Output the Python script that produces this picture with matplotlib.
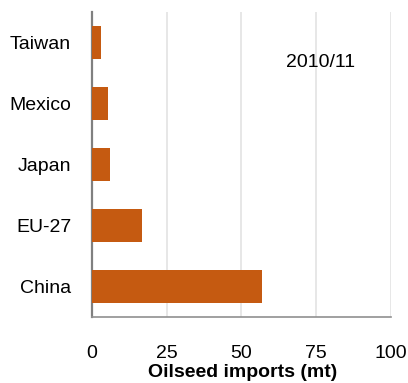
import matplotlib
matplotlib.use('Agg')
import matplotlib.pyplot as plt

# Oilseed imports by country, 2010/11 (million tonnes)
countries = ['China', 'EU-27', 'Japan', 'Mexico', 'Taiwan']
imports_mt = [56.9, 16.6, 6.0, 5.5, 2.9]
x_ticks = [0, 25, 50, 75, 100]
season = '2010/11'

plt.rcParams['font.family'] = ['Liberation Sans', 'DejaVu Sans']

fig = plt.figure(figsize=(4.08, 3.83), dpi=100)
ax = fig.add_axes([0.2255, 0.1723, 0.7328, 0.7964])

ax.barh(range(len(countries)), imports_mt, height=0.55, color='#C55A11', zorder=3)

ax.set_xlim(0, 100)
ax.set_ylim(-0.5, len(countries) - 0.5)
ax.set_xticks(x_ticks)
ax.set_yticks(range(len(countries)))
ax.set_yticklabels(countries)

# light vertical gridlines only
ax.grid(axis='x', color='#e3e3e3', linewidth=1.2, zorder=0)
ax.grid(axis='y', visible=False)

ax.tick_params(axis='x', length=0, pad=20, labelsize=14)
ax.tick_params(axis='y', length=0, pad=15, labelsize=14)

for side in ['top', 'right']:
    ax.spines[side].set_visible(False)
ax.spines['left'].set_color('#808080')
ax.spines['left'].set_linewidth(1.6)
ax.spines['bottom'].set_color('#909090')
ax.spines['bottom'].set_linewidth(1.2)

ax.set_xlabel('Oilseed imports (mt)', fontsize=14, fontweight='bold')
ax.xaxis.set_label_coords(0.505, -0.155)
ax.xaxis.label.set_va('top')

ax.text(0.765, 0.833, season, transform=ax.transAxes, fontsize=14,
        ha='center', va='center')

fig.savefig('out.png', dpi=100)
